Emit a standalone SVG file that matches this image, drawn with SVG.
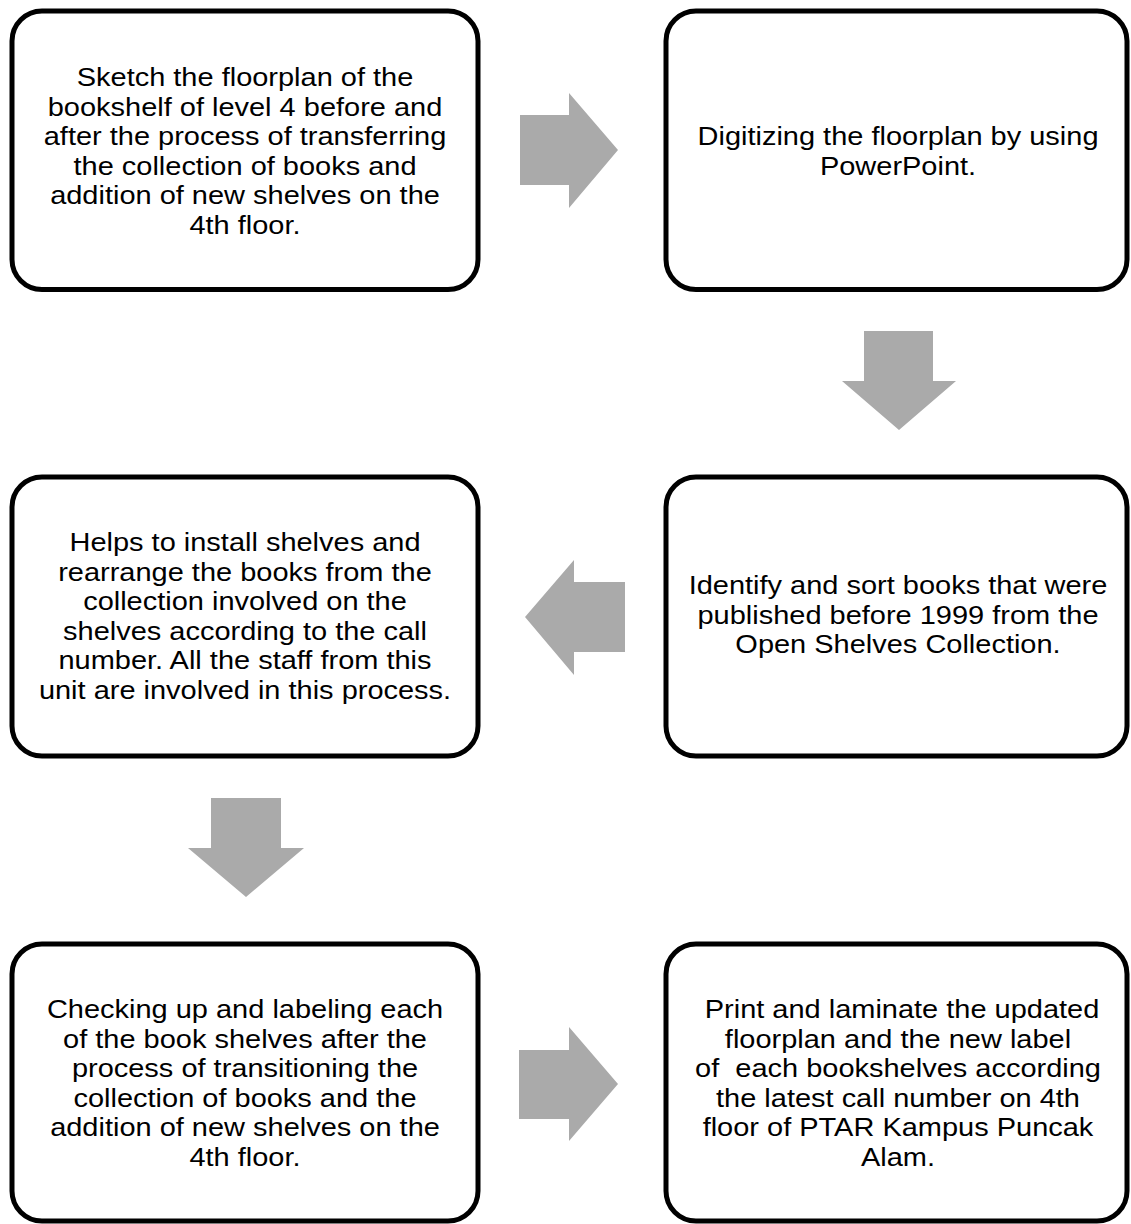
<svg xmlns="http://www.w3.org/2000/svg" width="1131" height="1224" viewBox="0 0 1131 1224">
<style>
.box{fill:#ffffff;stroke:#000000;stroke-width:5}
.arrow{fill:#AAAAAA;stroke:none}
.t{font-family:"Liberation Sans",Arial,sans-serif;font-size:26px;fill:#000000;text-anchor:middle}
.pre{white-space:pre}
</style>
<rect x="0" y="0" width="1131" height="1224" fill="#ffffff"/>
<g id="connectors">
<polygon class="arrow" points="520,115 569,115 569,93 618,150 569,208 569,185 520,185"/>
<polygon class="arrow" points="864,331 933,331 933,381 956,381 899,430 842,381 864,381"/>
<polygon class="arrow" points="525,617 574,560 574,582 625,582 625,652 574,652 574,675"/>
<polygon class="arrow" points="211,798 281,798 281,848 304,848 246,897 188,848 211,848"/>
<polygon class="arrow" points="519,1050 569,1050 569,1027 618,1084 569,1141 569,1119 519,1119"/>
</g>
<g id="node1">
<rect class="box" x="12" y="11" width="466" height="278.5" rx="30"/>
<text class="t" transform="translate(245,0) scale(1.115,1)"><tspan x="0" y="86">Sketch the floorplan of the</tspan><tspan x="0" y="115.6">bookshelf of level 4 before and</tspan><tspan x="0" y="145.2">after the process of transferring</tspan><tspan x="0" y="174.8">the collection of books and</tspan><tspan x="0" y="204.4">addition of new shelves on the</tspan><tspan x="0" y="234">4th floor.</tspan></text>
</g>
<g id="node2">
<rect class="box" x="666" y="11" width="461" height="278.5" rx="30"/>
<text class="t" transform="translate(898,0) scale(1.115,1)"><tspan x="0" y="145">Digitizing the floorplan by using</tspan><tspan x="0" y="174.6">PowerPoint.</tspan></text>
</g>
<g id="node3">
<rect class="box" x="12" y="477" width="466" height="279" rx="30"/>
<text class="t" transform="translate(245,0) scale(1.115,1)"><tspan x="0" y="551">Helps to install shelves and</tspan><tspan x="0" y="580.6">rearrange the books from the</tspan><tspan x="0" y="610.2">collection involved on the</tspan><tspan x="0" y="639.8">shelves according to the call</tspan><tspan x="0" y="669.4">number. All the staff from this</tspan><tspan x="0" y="699">unit are involved in this process.</tspan></text>
</g>
<g id="node4">
<rect class="box" x="666" y="477" width="461" height="279" rx="30"/>
<text class="t" transform="translate(898,0) scale(1.115,1)"><tspan x="0" y="594">Identify and sort books that were</tspan><tspan x="0" y="623.6">published before 1999 from the</tspan><tspan x="0" y="653.2">Open Shelves Collection.</tspan></text>
</g>
<g id="node5">
<rect class="box" x="12" y="944" width="466" height="277" rx="30"/>
<text class="t" transform="translate(245,0) scale(1.115,1)"><tspan x="0" y="1018">Checking up and labeling each</tspan><tspan x="0" y="1047.6">of the book shelves after the</tspan><tspan x="0" y="1077.2">process of transitioning the</tspan><tspan x="0" y="1106.8">collection of books and the</tspan><tspan x="0" y="1136.4">addition of new shelves on the</tspan><tspan x="0" y="1166">4th floor.</tspan></text>
</g>
<g id="node6">
<rect class="box" x="666" y="944" width="461" height="277" rx="30"/>
<text class="t pre" xml:space="preserve" transform="translate(898,0) scale(1.115,1)"><tspan x="0" y="1018"> Print and laminate the updated</tspan><tspan x="0" y="1047.6">floorplan and the new label</tspan><tspan x="0" y="1077.2">of  each bookshelves according</tspan><tspan x="0" y="1106.8">the latest call number on 4th</tspan><tspan x="0" y="1136.4">floor of PTAR Kampus Puncak</tspan><tspan x="0" y="1166">Alam.</tspan></text>
</g>
</svg>
